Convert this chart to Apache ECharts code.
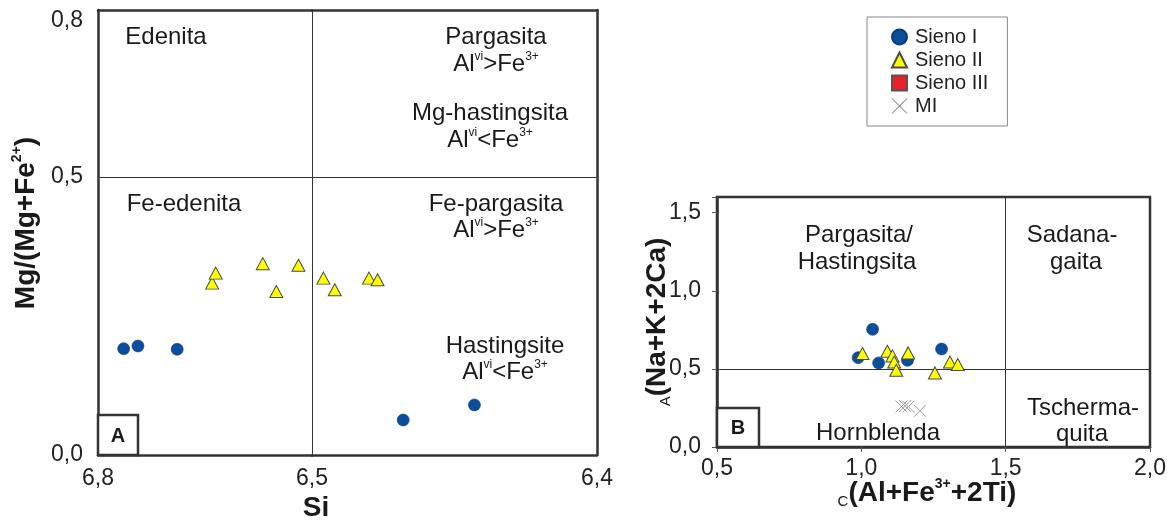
<!DOCTYPE html>
<html><head><meta charset="utf-8">
<script src="https://cdn.jsdelivr.net/npm/echarts@6/dist/echarts.min.js"></script>
<style>html,body{margin:0;padding:0;background:#fff}#c{width:1175px;height:524px}</style>
</head><body><div id="c"></div>
<script>
// ---------- DATA ----------
// Diagram A: [Si, Mg/(Mg+Fe2+)]
const aSieno1 = [[6.764,0.191],[6.744,0.196],[6.689,0.190],[6.468,0.063],[6.443,0.090]];
const aSieno2 = [[6.640,0.309],[6.635,0.327],[6.569,0.344],[6.550,0.294],[6.519,0.341],
                 [6.496,0.318],[6.492,0.297],[6.480,0.318],[6.477,0.315]];
// Diagram B: [C(Al+Fe3++2Ti), A(Na+K+2Ca)]
const bSieno1 = [[1.039,0.753],[0.989,0.572],[1.060,0.538],[1.160,0.555],[1.278,0.627]];
const bSieno2 = [[1.004,0.598],[1.090,0.613],[1.108,0.583],[1.114,0.544],[1.121,0.491],
                 [1.162,0.602],[1.255,0.474],[1.307,0.544],[1.334,0.528]];
const bSieno3 = [];
const bMI = [[1.139,0.259],[1.152,0.262],[1.163,0.258],[1.203,0.232]];
// tick labels
const aXTicksLeft = [6.8, 6.5];
const aXTicksRight = [6.4];
const aYTicks = [0, 0.5, 0.8];
const bXTicks = [0.5, 1.0, 1.5, 2.0];
const bYTicks = [0, 0.5, 1.0, 1.5];
// field boundaries
const aBoundSi = 6.5, aBoundMg = 0.5;
const bBoundX = 1.5, bBoundY = 0.5;
const seriesNames = ['Sieno I', 'Sieno II', 'Sieno III', 'MI'];

// ---------- STYLE ----------
const FONT = 'Liberation Sans, Arial, sans-serif';
const INK = '#1a1a1a';
const isTick = (ticks, v) => ticks.some(t => Math.abs(t - v) < 1e-6);
const fmt = ticks => v => isTick(ticks, v) ? v.toFixed(1).replace('.', ',') : '';
const frameLine = {show: true, lineStyle: {color: '#333', width: 2.5}};
const off = {show: false};
const lbl = (ticks, margin) => ({formatter: fmt(ticks), fontSize: 23, color: '#222', fontFamily: FONT, margin});
const CROSS = 'path://M0,0L10,10M10,0L0,10';

const sty = {
  'Sieno I': {symbol: 'circle', symbolSize: 12, itemStyle: {color: '#0b4e9c', borderColor: '#083c7a', borderWidth: 0.6, opacity: 1}},
  'Sieno II': {symbol: 'triangle', symbolSize: [13, 12], itemStyle: {color: '#ffff00', borderColor: '#4a4a4a', borderWidth: 1, opacity: 1}},
  'Sieno III': {symbol: 'rect', symbolSize: 13, itemStyle: {color: '#e8202a', borderColor: '#555', borderWidth: 1, opacity: 1}},
  'MI': {symbol: CROSS, symbolSize: 12, itemStyle: {color: 'rgba(0,0,0,0)', borderColor: '#9a9a9a', borderWidth: 1, opacity: 1}}
};
const S = (name, xi, yi, data) => Object.assign({type: 'scatter', name, xAxisIndex: xi, yAxisIndex: yi, data, z: 5, silent: true}, sty[name]);
const ML = (xi, yi, lines) => ({type: 'scatter', name: '_ml', xAxisIndex: xi, yAxisIndex: yi, data: [], z: 2, silent: true,
  markLine: {silent: true, symbol: 'none', label: off, animation: false, lineStyle: {color: '#333', width: 1, type: 'solid'}, data: lines}});

const leftA = d => d.filter(p => p[0] >= aBoundSi);
const rightA = d => d.filter(p => p[0] < aBoundSi);

// rich text
const RICH = {
  n: {fontSize: 24, fontFamily: FONT, fill: INK, lineHeight: 26},
  s: {fontSize: 12, fontFamily: FONT, fill: INK, lineHeight: 12, verticalAlign: 'top'},
  b: {fontSize: 28, fontFamily: FONT, fontWeight: 'bold', fill: INK, lineHeight: 32},
  bs: {fontSize: 14, fontFamily: FONT, fontWeight: 'bold', fill: INK, lineHeight: 14, verticalAlign: 'top'},
  sub: {fontSize: 15, fontFamily: FONT, fill: INK, lineHeight: 15, verticalAlign: 'bottom'}
};
const T = (text, x, y, rot) => ({type: 'text', x, y, rotation: rot || 0, silent: true, z: 10,
  style: {text, fontFamily: FONT, fontSize: 24, fill: INK, align: 'center', verticalAlign: 'middle',
          textAlign: 'center', textVerticalAlign: 'middle', rich: RICH}});
const BOX = (x, y, w, h, letter) => ({type: 'group', z: 10, children: [
  {type: 'rect', shape: {x, y, width: w, height: h}, style: {fill: '#fff', stroke: '#333', lineWidth: 2.5}, z: 10},
  {type: 'text', x: x + w / 2, y: y + h / 2 + 1, z: 11, style: {text: letter, fontFamily: FONT, fontWeight: 'bold', fontSize: 20, fill: INK, align: 'center', verticalAlign: 'middle', textAlign: 'center', textVerticalAlign: 'middle'}}
]});

const aYLabel = lbl(aYTicks, 15);
aYLabel.formatter = v => !isTick(aYTicks, v) ? '' : (v === aYTicks[aYTicks.length - 1] ? '{t|' : '{m|') + v.toFixed(1).replace('.', ',') + '}';
aYLabel.rich = {t: {fontSize: 23, color: '#222', fontFamily: FONT, padding: [22, 0, 0, 0]}, m: {fontSize: 23, color: '#222', fontFamily: FONT}};

const option = {
  animation: false,
  textStyle: {fontFamily: FONT},
  grid: [
    {left: 98, top: 10, width: 214, height: 445},
    {left: 312, top: 10, width: 285, height: 445},
    {left: 717, top: 197, width: 433, height: 250, show: true, borderColor: '#333', borderWidth: 2.5, backgroundColor: 'transparent'}
  ],
  xAxis: [
    {gridIndex: 0, type: 'value', min: 6.5, max: 6.8, interval: 0.1, inverse: true, position: 'bottom',
     axisLine: frameLine, axisTick: off, splitLine: off, axisLabel: lbl(aXTicksLeft, 12)},
    {gridIndex: 0, type: 'value', min: 6.5, max: 6.8, inverse: true, position: 'top',
     axisLine: frameLine, axisTick: off, splitLine: off, axisLabel: off},
    {gridIndex: 1, type: 'value', min: 6.4, max: 6.5, interval: 0.1, inverse: true, position: 'bottom',
     axisLine: frameLine, axisTick: off, splitLine: off, axisLabel: lbl(aXTicksRight, 12)},
    {gridIndex: 1, type: 'value', min: 6.4, max: 6.5, inverse: true, position: 'top',
     axisLine: frameLine, axisTick: off, splitLine: off, axisLabel: off},
    {gridIndex: 2, type: 'value', min: 0.5, max: 2.0, interval: 0.5, position: 'bottom',
     axisLine: frameLine, axisTick: {show: true, length: 5, lineStyle: {color: '#555', width: 1}}, splitLine: off,
     axisLabel: lbl(bXTicks, 10)}
  ],
  yAxis: [
    {gridIndex: 0, type: 'value', min: 0, max: 0.8, interval: 0.1, position: 'left',
     axisLine: frameLine, axisTick: off, splitLine: off, axisLabel: aYLabel},
    {gridIndex: 1, type: 'value', min: 0, max: 0.8, position: 'right',
     axisLine: frameLine, axisTick: off, splitLine: off, axisLabel: off},
    {gridIndex: 2, type: 'value', min: 0, max: 1.6, interval: 0.5, position: 'left',
     axisLine: frameLine, axisTick: {show: true, length: 5, lineStyle: {color: '#555', width: 1}}, splitLine: off,
     axisLabel: lbl(bYTicks, 16)}
  ],
  legend: {
    left: 867, top: 17, orient: 'vertical', selectedMode: false,
    padding: [10, 19, 10, 24], itemWidth: 15, itemHeight: 15, itemGap: 3,
    borderColor: '#888', borderWidth: 1, backgroundColor: '#fff',
    textStyle: {fontSize: 20, color: '#222', fontFamily: FONT, padding: [0, 0, 0, 3]},
    data: [
      {name: 'Sieno I', icon: 'circle'},
      {name: 'Sieno II', icon: 'triangle'},
      {name: 'Sieno III', icon: 'rect'},
      {name: 'MI', icon: CROSS, itemStyle: {color: 'rgba(0,0,0,0)', borderColor: '#666', borderWidth: 1}}
    ]
  },
  series: [
    ML(0, 0, [{yAxis: aBoundMg}]),
    ML(2, 1, [{xAxis: aBoundSi}, {yAxis: aBoundMg}]),
    ML(4, 2, [{xAxis: bBoundX}, {yAxis: bBoundY}]),
    S('Sieno I', 0, 0, leftA(aSieno1)),
    S('Sieno I', 2, 1, rightA(aSieno1)),
    S('Sieno II', 0, 0, leftA(aSieno2)),
    S('Sieno II', 2, 1, rightA(aSieno2)),
    S('Sieno I', 4, 2, bSieno1),
    S('Sieno II', 4, 2, bSieno2),
    S('Sieno III', 4, 2, bSieno3),
    S('MI', 4, 2, bMI)
  ],
  graphic: {elements: [
    // Diagram A fields
    T('Edenita', 166, 37),
    T('Pargasita', 496, 37),
    T('{n|Al}{s|vi}{n|>Fe}{s|3+}', 496, 64),
    T('Mg-hastingsita', 490, 113),
    T('{n|Al}{s|vi}{n|<Fe}{s|3+}', 490, 140),
    T('Fe-edenita', 184, 204),
    T('Fe-pargasita', 496, 204),
    T('{n|Al}{s|vi}{n|>Fe}{s|3+}', 496, 230),
    T('Hastingsite', 505, 346),
    T('{n|Al}{s|vi}{n|<Fe}{s|3+}', 505, 372),
    // Diagram B fields
    T('Pargasita/', 859, 235),
    T('Hastingsita', 857, 262),
    T('Sadana-', 1072, 235),
    T('gaita', 1076, 262),
    T('Tscherma-', 1083, 408),
    T('quita', 1082, 434),
    T('Hornblenda', 878, 433),
    // axis titles
    T('{b|Mg/(Mg+Fe}{bs|2+}{b|)}', 26, 223, Math.PI / 2),
    T('{b|Si}', 316, 508),
    T('{sub|A}{b|(Na+K+2Ca)}', 657, 322, Math.PI / 2),
    T('{sub|C}{b|(Al+Fe}{bs|3+}{b|+2Ti)}', 927, 493),
    // panel letters
    BOX(98, 415, 40, 40, 'A'),
    BOX(717, 408, 42, 39, 'B')
  ]}
};
const chart = echarts.init(document.getElementById('c'));
chart.setOption(option);
</script>
</body></html>
